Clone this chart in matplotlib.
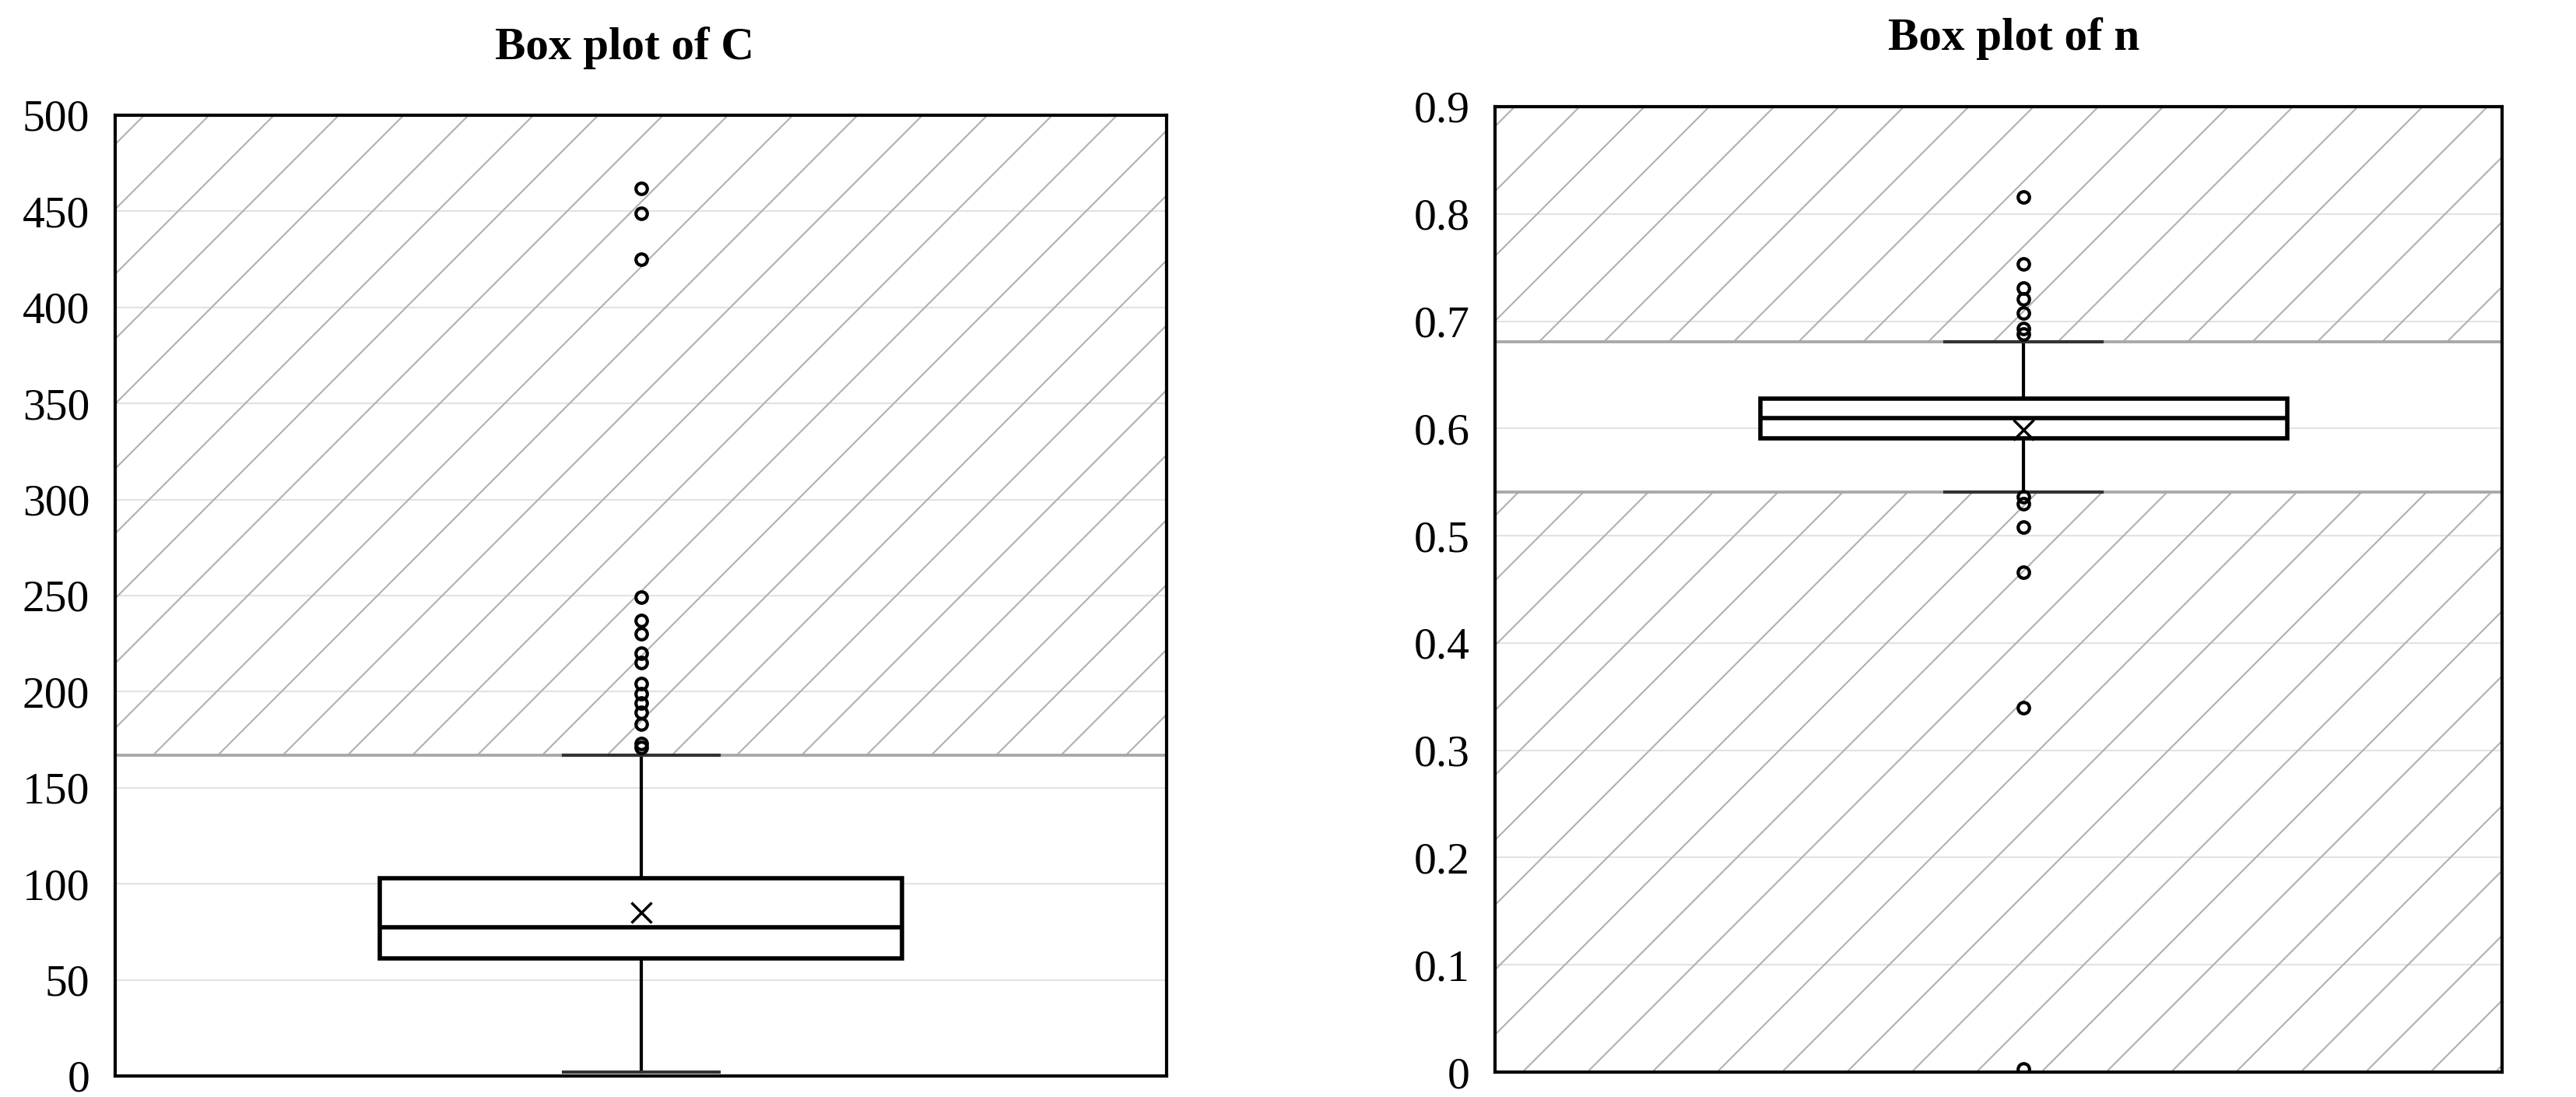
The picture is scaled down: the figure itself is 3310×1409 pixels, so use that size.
#!/usr/bin/env python3
"""
Box plots of C and n with hatched outlier zones.
"""

import matplotlib
matplotlib.use("Agg")
import matplotlib.pyplot as plt
import numpy as np

# values
c_q1, c_med, c_q3, c_mean = 61, 77.5, 103, 85
c_lo, c_hi = 2, 167
c_fliers = [462, 449, 425, 249, 237, 230, 220, 215, 204, 199, 194, 189, 183, 173, 171]
c_ticks = [0, 50, 100, 150, 200, 250, 300, 350, 400, 450, 500]

n_q1, n_med, n_q3, n_mean = 0.591, 0.610, 0.628, 0.599
n_lo, n_hi = 0.541, 0.681
n_fliers = [0.816, 0.753, 0.731, 0.721, 0.708, 0.693, 0.688,
            0.536, 0.530, 0.508, 0.466, 0.340, 0.003]
n_ticks = [0, 0.1, 0.2, 0.3, 0.4, 0.5, 0.6, 0.7, 0.8, 0.9]

titles = ["Box plot of C", "Box plot of n"]

plt.rcParams["font.family"] = ["Liberation Serif", "DejaVu Serif"]
plt.rcParams["hatch.linewidth"] = 0.3

DPI = 500


def draw_box(ax, stats, ticks, xlim, width, capwidth, hatch_low):
    ymin, ymax = ticks[0], ticks[-1]
    ax.set_xlim(*xlim)
    ax.set_ylim(ymin, ymax)

    # hatched zones outside the whiskers
    ax.axhspan(stats["whishi"], ymax, facecolor="none", edgecolor="#b0b0b0",
               hatch="//", linewidth=0, zorder=1)
    if hatch_low:
        ax.axhspan(ymin, stats["whislo"], facecolor="none", edgecolor="#b0b0b0",
                   hatch="//", linewidth=0, zorder=1)
        ax.axhline(stats["whislo"], color="#a8a8a8", lw=0.55, zorder=2)
    ax.axhline(stats["whishi"], color="#a8a8a8", lw=0.55, zorder=2)

    ax.bxp([stats], positions=[0], widths=width, capwidths=capwidth,
           showmeans=True, showfliers=True, patch_artist=True,
           boxprops=dict(facecolor="white", edgecolor="black", linewidth=0.8),
           medianprops=dict(color="black", linewidth=0.8),
           whiskerprops=dict(color="black", linewidth=0.6),
           capprops=dict(color="#333333", linewidth=0.6),
           meanprops=dict(marker="x", markeredgecolor="black", markersize=3.8,
                          markeredgewidth=0.5),
           flierprops=dict(marker="o", markerfacecolor="none",
                           markeredgecolor="black", markersize=2.1,
                           markeredgewidth=0.6),
           zorder=3)

    ax.set_yticks(ticks)
    ax.set_yticklabels([f"{t:g}" for t in ticks], fontsize=8.3)
    ax.set_xticks([])
    ax.tick_params(axis="y", length=0, pad=4.7)
    ax.grid(axis="y", color="#e2e2e2", linewidth=0.3, zorder=0)
    ax.set_axisbelow(True)
    for sp in ax.spines.values():
        sp.set_color("black")
        sp.set_linewidth(0.6)


def main():
    fig = plt.figure(figsize=(3310 / DPI, 1409 / DPI), dpi=DPI)
    ax1 = fig.add_axes([0.0447, 0.0192, 0.4082, 0.8758])
    ax2 = fig.add_axes([0.5804, 0.0227, 0.3909, 0.8801])

    c_stats = dict(q1=c_q1, med=c_med, q3=c_q3, mean=c_mean,
                   whislo=c_lo, whishi=c_hi, fliers=np.array(c_fliers))
    n_stats = dict(q1=n_q1, med=n_med, q3=n_q3, mean=n_mean,
                   whislo=n_lo, whishi=n_hi, fliers=np.array(n_fliers))

    draw_box(ax1, c_stats, c_ticks, (-1, 1), 0.994, 0.296, hatch_low=False)
    draw_box(ax2, n_stats, n_ticks, (-1.05, 0.95), 1.046, 0.312, hatch_low=True)

    fig.text(802 / 3310, 1 - 62 / 1409, titles[0], ha="center", va="center",
             fontsize=8.5, fontweight="bold")
    fig.text(2588 / 3310, 1 - 50 / 1409, titles[1], ha="center", va="center",
             fontsize=8.5, fontweight="bold")

    fig.savefig("out.png", dpi=DPI)
    plt.close(fig)


if __name__ == "__main__":
    main()
